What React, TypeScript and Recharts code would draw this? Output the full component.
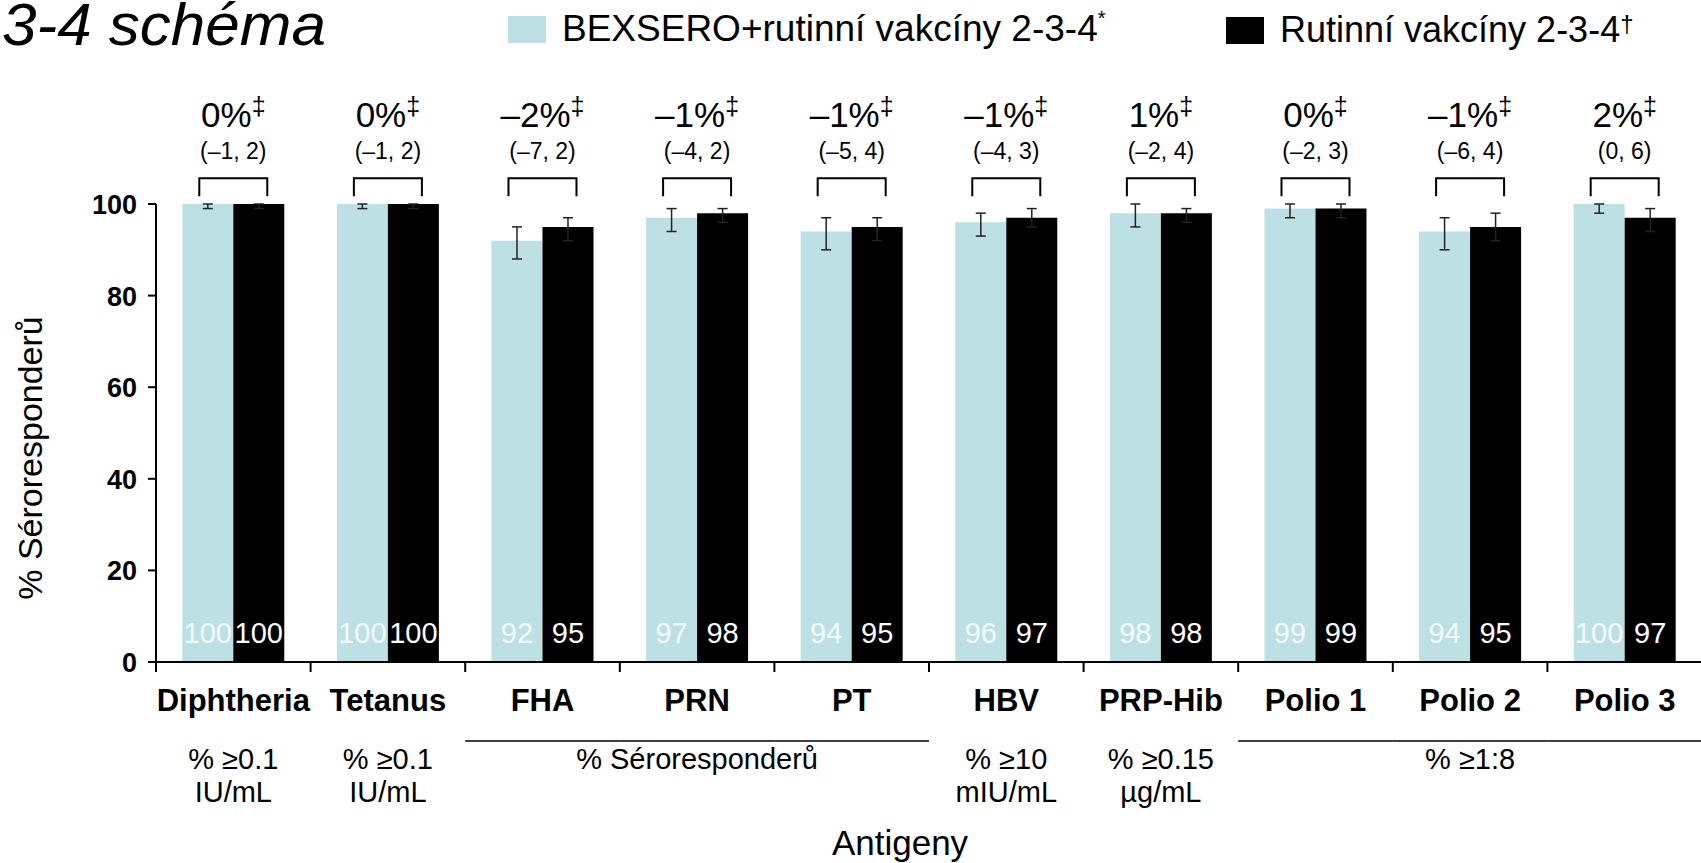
import { BarChart, Bar, XAxis, YAxis, ErrorBar, LabelList } from 'recharts';

const categories = ['Diphtheria', 'Tetanus', 'FHA', 'PRN', 'PT', 'HBV', 'PRP-Hib', 'Polio 1', 'Polio 2', 'Polio 3'];

const bexsero = [100, 100, 92, 97, 94, 96, 98, 99, 94, 100];
const bexseroLow = [99, 99, 88, 94, 90, 93, 95, 97, 90, 98];
const bexseroHigh = [100, 100, 95, 99, 97, 98, 100, 100, 97, 100];

const routine = [100, 100, 95, 98, 95, 97, 98, 99, 95, 97];
const routineLow = [99, 99, 92, 96, 92, 95, 96, 97, 92, 94];
const routineHigh = [100, 100, 97, 99, 97, 99, 99, 100, 98, 99];

const diffLabels = ['0%', '0%', '–2%', '–1%', '–1%', '–1%', '1%', '0%', '–1%', '2%'];
const ciLabels = ['(–1, 2)', '(–1, 2)', '(–7, 2)', '(–4, 2)', '(–5, 4)', '(–4, 3)', '(–2, 4)', '(–2, 3)', '(–6, 4)', '(0, 6)'];

// threshold text under each antigen ('' = none, '\n' splits lines)
const thresholdLabels = ['% ≥0.1\nIU/mL', '% ≥0.1\nIU/mL', '', '% Séroresponderů', '', '% ≥10\nmIU/mL', '% ≥0.15\nµg/mL', '', '% ≥1:8', ''];
const grouped = [false, false, true, true, true, false, false, true, true, true];

const yTicks = [0, 20, 40, 60, 80, 100];

const FONT = '"Liberation Sans", Arial, Helvetica, sans-serif';
const LIGHT = '#bce0e3';

const CHART_W = 1712;
const CHART_H = 863;
const MARGIN = { top: 204, right: 10, bottom: 0, left: 0 };
const Y_AXIS_W = 156;
const BAND = (CHART_W - MARGIN.left - MARGIN.right - Y_AXIS_W) / categories.length;
const BRACKET_VALUE = 105.6;

const data = categories.map((name, i) => ({
    name,
    bexsero: bexsero[i],
    bexseroErr: [bexsero[i] - bexseroLow[i], bexseroHigh[i] - bexsero[i]],
    routine: routine[i],
    routineErr: [routine[i] - routineLow[i], routineHigh[i] - routine[i]],
}));

function ValueTick(props: any) {
    const { y, payload } = props;
    return (
        <text x={Y_AXIS_W - 19} y={y} dy={10} textAnchor="end" fontFamily={FONT} fontSize={27} fontWeight="bold" fill="#000">
            {payload.value}
        </text>
    );
}

function AntigenTick(props: any) {
    const { x, y, payload } = props;
    const i = categories.indexOf(payload.value);
    const lines = thresholdLabels[i] ? thresholdLabels[i].split('\n') : [];
    return (
        <g>
            <line x1={x - BAND / 2} x2={x - BAND / 2} y1={y} y2={y + 10} stroke="#000" strokeWidth={2} />
            <text x={x} y={y + 49} textAnchor="middle" fontFamily={FONT} fontSize={31} fontWeight="bold" fill="#000">
                {payload.value}
            </text>
            {grouped[i] && (
                <line x1={x - BAND / 2} x2={x + BAND / 2} y1={y + 79} y2={y + 79} stroke="#000" strokeWidth={1.5} />
            )}
            {lines.map((t, k) => (
                <text key={k} x={x} y={y + 107 + k * 33} textAnchor="middle" fontFamily={FONT} fontSize={29} fill="#000">
                    {t}
                </text>
            ))}
        </g>
    );
}

function inBarLabel(color: string) {
    return (props: any) => {
        const { x, y, width, height, value } = props;
        return (
            <text x={x + width / 2} y={y + height - 19} textAnchor="middle" fontFamily={FONT} fontSize={29} fill={color}>
                {value}
            </text>
        );
    };
}

function Annotation(props: any) {
    const { x, y, height, value } = props;
    const i = categories.indexOf(value);
    const base = y + height;
    const perUnit = height / routine[i];
    const top = base - BRACKET_VALUE * perUnit;
    const half = 34;
    return (
        <g>
            <path
                d={`M${x - half},${top + 18} V${top} H${x + half} V${top + 18}`}
                fill="none"
                stroke="#000"
                strokeWidth={2}
            />
            <text x={x} y={top - 19} textAnchor="middle" fontFamily={FONT} fontSize={23} fill="#000">
                {ciLabels[i]}
            </text>
            <text x={x} y={top - 51} textAnchor="middle" fontFamily={FONT} fontSize={35} fill="#000">
                {diffLabels[i]}
                <tspan fontSize={25} dy={-12}>‡</tspan>
            </text>
        </g>
    );
}

export default function App() {
    return (
        <div style={{ position: 'absolute', left: 0, top: 0, width: 1701, height: 863, overflow: 'hidden', background: '#fff' }}>
            <BarChart
                width={CHART_W}
                height={CHART_H}
                data={data}
                margin={MARGIN}
                barCategoryGap="17%"
                barGap={0}
            >
                <YAxis
                    width={Y_AXIS_W}
                    domain={[0, 100]}
                    ticks={yTicks}
                    axisLine={{ stroke: '#000', strokeWidth: 2 }}
                    tickLine={{ stroke: '#000', strokeWidth: 2 }}
                    tickSize={8}
                    tick={<ValueTick />}
                />
                <XAxis
                    dataKey="name"
                    height={CHART_H - 662}
                    axisLine={{ stroke: '#000', strokeWidth: 2 }}
                    tickLine={false}
                    tickSize={0}
                    tickMargin={0}
                    interval={0}
                    tick={<AntigenTick />}
                />
                <Bar dataKey="bexsero" fill={LIGHT} isAnimationActive={false}>
                    <ErrorBar dataKey="bexseroErr" direction="y" width={5} stroke="#222" strokeWidth={1.5} isAnimationActive={false} />
                    <LabelList dataKey="bexsero" content={inBarLabel('#f4fbfb')} />
                </Bar>
                <Bar dataKey="routine" fill="#000" isAnimationActive={false}>
                    <ErrorBar dataKey="routineErr" direction="y" width={5} stroke="#222" strokeWidth={1.5} isAnimationActive={false} />
                    <LabelList dataKey="routine" content={inBarLabel('#fff')} />
                    <LabelList dataKey="name" content={<Annotation />} />
                </Bar>
            </BarChart>

            <svg width={1701} height={863} style={{ position: 'absolute', left: 0, top: 0, pointerEvents: 'none' }}>
                <text x={2} y={45} fontFamily={FONT} fontSize={60} fontStyle="italic" fill="#000" textLength={324} lengthAdjust="spacingAndGlyphs">
                    3-4 schéma
                </text>

                <rect x={508} y={16} width={38} height={27} fill={LIGHT} />
                <text x={562} y={41} fontFamily={FONT} fontSize={37} fill="#000">
                    BEXSERO+rutinní vakcíny 2-3-4<tspan fontSize={20} dy={-16}>*</tspan>
                </text>

                <rect x={1226} y={17} width={38} height={27} fill="#000" />
                <text x={1280} y={42} fontFamily={FONT} fontSize={36} fill="#000">
                    Rutinní vakcíny 2-3-4<tspan fontSize={24} dy={-10}>†</tspan>
                </text>

                <text
                    transform="translate(30,458) rotate(-90)"
                    textAnchor="middle"
                    dominantBaseline="central"
                    fontFamily={FONT}
                    fontSize={34}
                    fill="#000"
                >
                    % Séroresponderů
                </text>

                <text x={900} y={855} textAnchor="middle" fontFamily={FONT} fontSize={35} fill="#000">Antigeny</text>
            </svg>
        </div>
    );
}
